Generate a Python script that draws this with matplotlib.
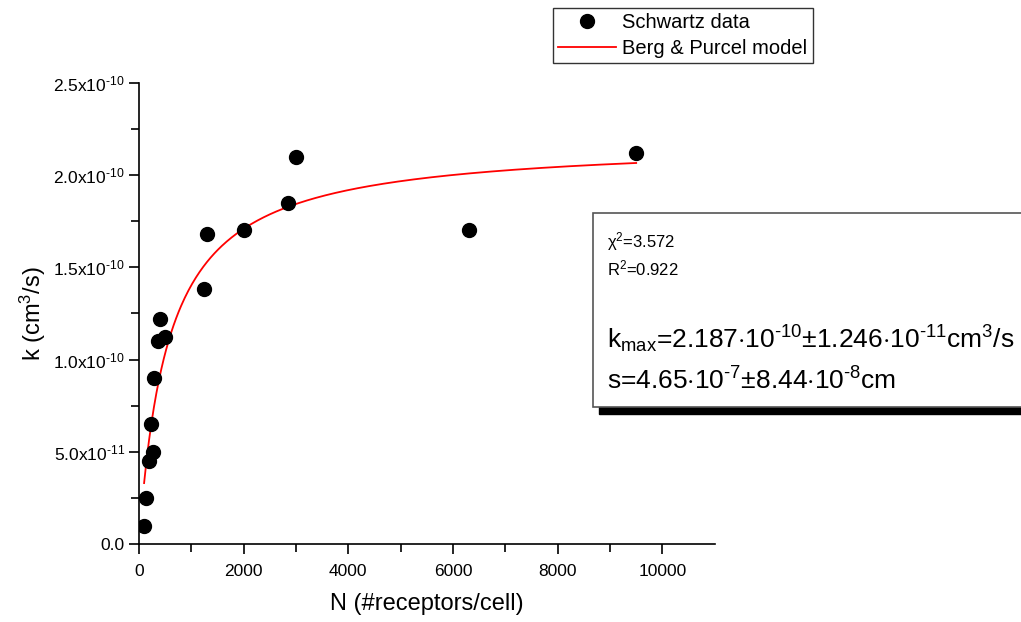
import numpy as np
import matplotlib.pyplot as plt
from matplotlib.patches import Rectangle

plt.rcParams['font.family'] = ['Liberation Sans', 'DejaVu Sans']
plt.rcParams['mathtext.fontset'] = 'custom'
plt.rcParams['mathtext.rm'] = 'Liberation Sans'
plt.rcParams['mathtext.it'] = 'Liberation Sans:italic'
plt.rcParams['mathtext.bf'] = 'Liberation Sans:bold'

# Schwartz data
n_receptors = [100, 130, 190, 240, 275, 290, 360, 400, 500, 1250, 1300, 2000, 2850, 3000, 6300, 9500]
k_rate = [1.0e-11, 2.5e-11, 4.5e-11, 6.5e-11, 5.0e-11, 9.0e-11, 1.10e-10, 1.22e-10, 1.12e-10,
          1.38e-10, 1.68e-10, 1.70e-10, 1.85e-10, 2.10e-10, 1.70e-10, 2.12e-10]

# Berg & Purcel fit: k = kmax * N / (N + N_half)
k_max = 2.187e-10
n_half = 560
n_model = np.linspace(100, 9500, 400)
k_model = k_max * n_model / (n_model + n_half)

H = '\u2010'  # plain hyphen used in the exponents
y_ticks = [0, 5e-11, 1e-10, 1.5e-10, 2e-10, 2.5e-10]
y_labels = ['0.0'] + [r'$\mathregular{%sx10^{%s%s}}$' % (m, H, e)
                      for m, e in [('5.0', '11'), ('1.0', '10'), ('1.5', '10'), ('2.0', '10'), ('2.5', '10')]]
x_ticks = [0, 2000, 4000, 6000, 8000, 10000]

fig = plt.figure(figsize=(10.21, 6.22), dpi=100)
ax = fig.add_axes([0.136, 0.125, 0.564, 0.742])

ax.plot(n_receptors, k_rate, 'o', color='black', markersize=10, label='Schwartz data', zorder=3)
ax.plot(n_model, k_model, '-', color='red', lw=1.3, label='Berg & Purcel model')

ax.set_xlim(0, 11000)
ax.set_ylim(0, 2.5e-10)
ax.set_xticks(x_ticks)
ax.set_xticks(np.arange(1000, 11000, 2000), minor=True)
ax.set_yticks(y_ticks)
ax.set_yticklabels(y_labels)
ax.set_yticks(np.arange(2.5e-11, 2.5e-10, 5e-11), minor=True)
ax.tick_params(which='major', direction='out', length=7, width=1.2, labelsize=12.5, pad=3)
ax.tick_params(axis='x', which='major', pad=7)
ax.tick_params(which='minor', direction='out', length=5.5, width=1.2)
for side in ['top', 'right']:
    ax.spines[side].set_visible(False)
for side in ['left', 'bottom']:
    ax.spines[side].set_linewidth(1.2)

ax.set_xlabel('N (#receptors/cell)', fontsize=17, labelpad=10)
ax.set_ylabel(r'k (cm$\mathregular{^3}$/s)', fontsize=17, labelpad=4)

leg = fig.legend(loc='upper left', bbox_to_anchor=(553 / 1021, 1 - 8 / 622), fontsize=14.5,
                 frameon=True, fancybox=False, edgecolor='black', handlelength=2.9,
                 borderpad=0.25, handletextpad=0.3, labelspacing=0.35, borderaxespad=0)
leg.get_frame().set_linewidth(1.0)

# fit result box with shadow
x0, y0 = 593 / 1021, 1 - 407 / 622
w, h = 1.0 - x0 + 0.01, (407 - 213) / 622
shadow = Rectangle((x0 + 6 / 1021, y0 - 7 / 622), w, h, transform=fig.transFigure,
                   facecolor='black', edgecolor='black', zorder=1)
box = Rectangle((x0, y0), w, h, transform=fig.transFigure,
                facecolor='white', edgecolor='#555555', lw=1.2, zorder=2)
fig.patches.extend([shadow, box])

tx = 607 / 1021
fig.text(tx, 1 - 242 / 622, r'$\mathregular{\chi^2}$=3.572', fontsize=12, va='center', zorder=3)
fig.text(tx, 1 - 268 / 622, r'$\mathregular{R^2}$=0.922', fontsize=12, va='center', zorder=3)
fig.text(tx, 1 - 339 / 622,
         r'$\mathregular{k_{max}}$=2.187$\cdot$$\mathregular{10^{%s10}}$$\pm$1.246$\cdot$$\mathregular{10^{%s11}}$cm$\mathregular{^3}$/s' % (H, H),
         fontsize=19, va='center', zorder=3)
fig.text(tx, 1 - 381 / 622,
         r's=4.65$\cdot$$\mathregular{10^{%s7}}$$\pm$8.44$\cdot$$\mathregular{10^{%s8}}$cm' % (H, H),
         fontsize=19, va='center', zorder=3)

fig.savefig('out.png', dpi=100)
